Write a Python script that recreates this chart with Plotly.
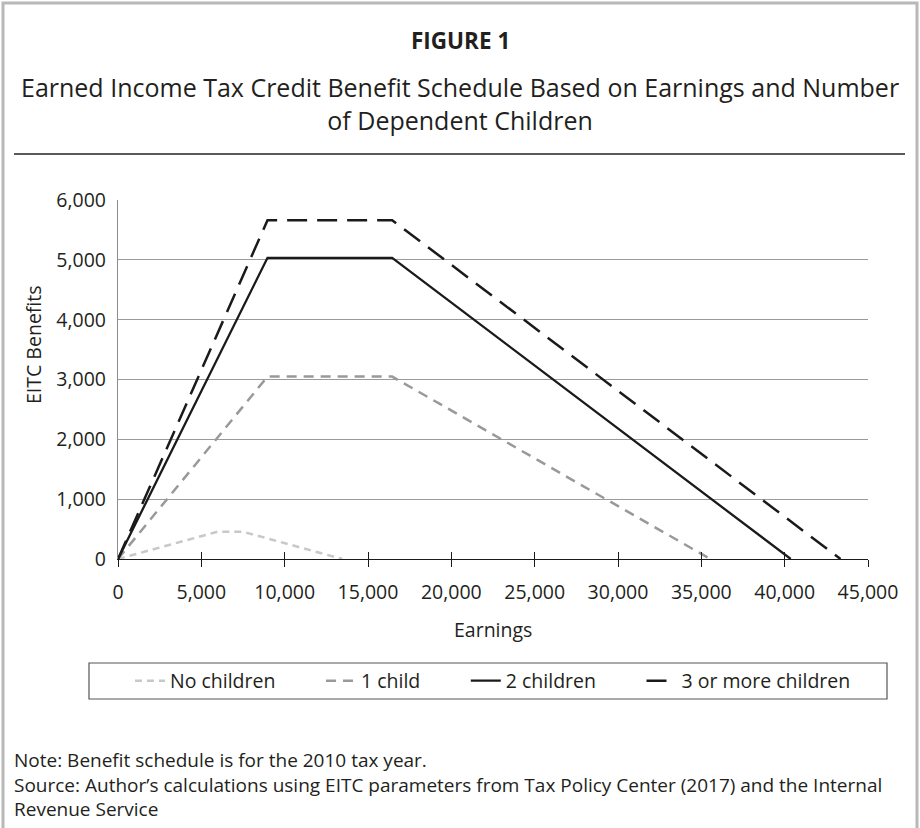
import plotly.graph_objects as go

# ---- data ----
earnings_none = [0, 5980, 7480, 13460]
benefit_none = [0, 457, 457, 0]
earnings_one = [0, 8970, 16450, 35535]
benefit_one = [0, 3050, 3050, 0]
earnings_two = [0, 8970, 16450, 40363]
benefit_two = [0, 5036, 5036, 0]
earnings_three = [0, 8970, 16450, 43352]
benefit_three = [0, 5666, 5666, 0]

series_names = ["No children", "1 child", "2 children", "3 or more children"]
x_ticks = [0, 5000, 10000, 15000, 20000, 25000, 30000, 35000, 40000, 45000]
y_ticks = [0, 1000, 2000, 3000, 4000, 5000, 6000]

TXT = "#231f20"
FONT = "Open Sans"

W, H = 920, 828
L, R, T, B = 118, 868, 200, 559  # plot area in pixels


def px(xp):
    return (xp - L) / (R - L)


def py(yp):
    return (B - yp) / (B - T)


NB = "\u00a0"
fig = go.Figure()
styles = [
    (earnings_none, benefit_none, "#c8c8c8", "7px,5px", 2.5),
    (earnings_one, benefit_one, "#999999", "10px,7px", 2.5),
    (earnings_two, benefit_two, "#1a1a1a", "solid", 2.3),
    (earnings_three, benefit_three, "#1a1a1a", "20px,10px", 2.5),
]
pads = [NB * 8, NB * 8, NB * 8, ""]
for (xs, ys, col, dash, w), name, pad in zip(styles, series_names, pads):
    fig.add_trace(go.Scatter(x=xs, y=ys, mode="lines", name=name + pad,
                             line=dict(color=col, dash=dash, width=w)))

# invisible trace on an overlay axis that draws the inner half of the crossing ticks
fig.add_trace(go.Scatter(x=[x_ticks[0], x_ticks[-1]], y=[y_ticks[0], y_ticks[0]],
                         xaxis="x2", mode="lines", line=dict(width=0),
                         showlegend=False, hoverinfo="skip"))

fig.update_layout(
    width=W, height=H,
    margin=dict(l=L, r=W - R, t=T, b=H - B, autoexpand=False),
    paper_bgcolor="white", plot_bgcolor="white",
    font=dict(family=FONT, color=TXT, size=19),
    xaxis=dict(range=[x_ticks[0], x_ticks[-1]], tickvals=x_ticks,
               ticktext=[f"{v:,}" for v in x_ticks],
               ticks="outside", ticklen=7, tickwidth=1, tickcolor="#1a1a1a",
               showline=True, linecolor="#1a1a1a", linewidth=1.2,
               showgrid=False, zeroline=False, ticklabelstandoff=8,
               tickfont=dict(size=19.5, color=TXT)),
    xaxis2=dict(range=[x_ticks[0], x_ticks[-1]], overlaying="x", anchor="y",
                side="bottom", tickvals=x_ticks, ticks="inside", ticklen=7,
                tickwidth=1, tickcolor="#1a1a1a", showticklabels=False,
                showgrid=False, zeroline=False, showline=False),
    yaxis=dict(range=[y_ticks[0], y_ticks[-1] * 1.0005], tickvals=y_ticks,
               ticktext=[f"{v:,}" for v in y_ticks],
               ticks="", showline=True, linecolor="#8c8c8c", linewidth=1.2,
               showgrid=True, gridcolor="#9a9a9a", gridwidth=1,
               zeroline=False, ticklabelstandoff=7,
               tickfont=dict(size=19.5, color=TXT)),
    showlegend=True,
    legend=dict(orientation="h", x=px(130), y=py(681), xanchor="left",
                yanchor="middle", bgcolor="rgba(0,0,0,0)", borderwidth=0,
                font=dict(size=19.5, color=TXT), tracegroupgap=0,
                itemwidth=30),
)

shapes = [
    # outer frame
    dict(type="rect", xref="paper", yref="paper", x0=px(3), x1=px(917),
         y0=py(860), y1=py(3), line=dict(color="#b8b8b8", width=3)),
    # rule under the title
    dict(type="line", xref="paper", yref="paper", x0=px(14), x1=px(905),
         y0=py(154), y1=py(154), line=dict(color="#5a5a5a", width=2)),
    # legend box
    dict(type="rect", xref="paper", yref="paper", x0=px(89), x1=px(887),
         y0=py(699), y1=py(663), line=dict(color="#555555", width=1.2)),
]
fig.update_layout(shapes=shapes)

annotations = [
    dict(text="<b>FIGURE 1</b>", xref="paper", yref="paper", x=px(460), y=py(40),
         showarrow=False, xanchor="center", yanchor="middle",
         font=dict(size=22.5, color=TXT)),
    dict(text="Earned Income Tax Credit Benefit Schedule Based on Earnings and Number"
              "<br>of Dependent Children",
         xref="paper", yref="paper", x=px(460), y=py(103), showarrow=False,
         xanchor="center", yanchor="middle", align="center",
         font=dict(size=25, color=TXT)),
    dict(text="Earnings", xref="paper", yref="paper", x=px(493), y=py(629),
         showarrow=False, xanchor="center", yanchor="middle",
         font=dict(size=19.5, color=TXT)),
    dict(text="EITC Benefits", xref="paper", yref="paper", x=px(33), y=py(345),
         showarrow=False, textangle=-90, xanchor="center", yanchor="middle",
         font=dict(size=19.5, color=TXT)),
    dict(text="Note: Benefit schedule is for the 2010 tax year.<br>"
              "Source: Author\u2019s calculations using EITC parameters from Tax Policy "
              "Center (2017) and the Internal<br>Revenue Service",
         xref="paper", yref="paper", x=px(12), y=py(784), showarrow=False,
         xanchor="left", yanchor="middle", align="left",
         font=dict(size=19, color=TXT)),
]
fig.update_layout(annotations=annotations)

fig.write_html(
    "out.html",
    config={"displayModeBar": False},
    post_script="document.body.style.margin='0';document.body.style.overflow='hidden';",
)
